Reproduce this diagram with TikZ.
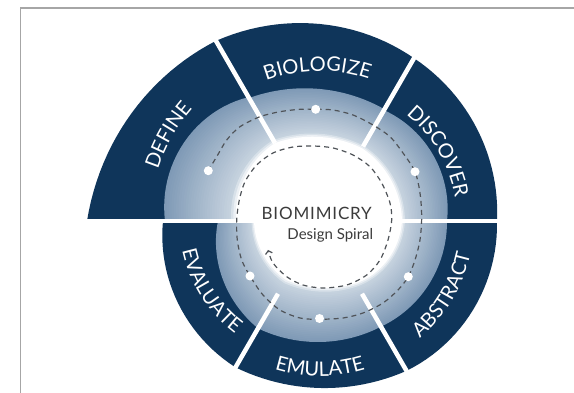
\documentclass[tikz,border=0pt]{standalone}
\usepackage{fontspec}
\setmainfont{Lato}
\newfontfamily\titlefont[LetterSpace=5]{Lato}
\usetikzlibrary{decorations.text,arrows.meta}

\definecolor{spiralnavy}{HTML}{0F355A}
\definecolor{ringblue}{HTML}{7F9AB6}
\definecolor{framegray}{HTML}{A6A6A6}
\definecolor{dashgray}{HTML}{4F5358}
\definecolor{titlegray}{HTML}{3B3B3B}

\newcommand\labelfont{\color{white}\fontsize{20}{24}\selectfont}
% from/to angle, outer radius (start/mid/end), inner edge of dark band, edge of white centre
\newcommand\seglist{-180/-120/157/164/169/102/113/124/66/66/68,
  -120/-60/169/167/173/124/121/122/68/67/72,
  -60/0/173/177/177/122/126/127/72/78/82,
  0/60/177/182/188/127/131/128/82/82/84,
  60/120/188/197/208/129/132/142/84/84/90,
  120/180/208/217/233/143/157/155/90/87/84}

\tikzset{
  ringlabel/.style={decorate, decoration={text along path, text align=center, text={|\labelfont|#1}}},
  sepline/.style={white, line width=4.5pt},
  stagedot/.style={circle, fill=white, inner sep=0pt, minimum size=9pt},
  titletext/.style={font=\titlefont\fontsize{17}{20}\selectfont, text=titlegray, inner sep=0pt},
}

\begin{document}
\begin{tikzpicture}[x=1pt, y=1pt, >={Straight Barb[length=3pt,width=7pt]},
  declare function={rsp(\z,\za,\zb,\ra,\rb,\rc)=\ra+(\rc-\ra)*(\z-\za)/(\zb-\za)+(\rb-(\ra+\rc)/2)*4*(\z-\za)/(\zb-\za)*(1-(\z-\za)/(\zb-\za));}]
\useasboundingbox (0,0) rectangle (574,393);
\draw[framegray, line width=1.3pt] (20.5,0) -- (20.5,385) -- (574,385);
\coordinate (C) at (320,172);

% dark outer band
\fill[spiralnavy] (C) \foreach \ta/\tb/\op/\om/\oe/\ip/\im/\ie/\wp/\wm/\we in \seglist {
  -- plot[domain=\ta:\tb, samples=25] ({320+rsp(\x,\ta,\tb,\op,\om,\oe)*cos(\x)}, {172+rsp(\x,\ta,\tb,\op,\om,\oe)*sin(\x)})} -- cycle;

% light ring, fading to the white centre
\foreach \k in {0,...,29} {
  \pgfmathsetmacro\st{\k/30}
  \pgfmathsetmacro\pc{\st<0.9 ? 100-55*\st/0.9 : 45*(1-\st)/0.1}
  \fill[ringblue!\pc!white] (C) \foreach \ta/\tb/\op/\om/\oe/\ip/\im/\ie/\wp/\wm/\we in \seglist {
    -- plot[domain=\ta:\tb, samples=25] ({320+((1-\st)*rsp(\x,\ta,\tb,\ip,\im,\ie)+\st*rsp(\x,\ta,\tb,\wp,\wm,\we))*cos(\x)},
      {172+((1-\st)*rsp(\x,\ta,\tb,\ip,\im,\ie)+\st*rsp(\x,\ta,\tb,\wp,\wm,\we))*sin(\x)})} -- cycle;
}
\fill[white] (C) \foreach \ta/\tb/\op/\om/\oe/\ip/\im/\ie/\wp/\wm/\we in \seglist {
  -- plot[domain=\ta:\tb, samples=25] ({320+rsp(\x,\ta,\tb,\wp,\wm,\we)*cos(\x)}, {172+rsp(\x,\ta,\tb,\wp,\wm,\we)*sin(\x)})} -- cycle;

% gaps between the stages
\foreach \ang/\ri/\ro in {120/90/212, 60/86/192, -60/84/176, -120/84/172}
  \draw[sepline] ([shift={(\ang:\ri)}]C) -- ([shift={(\ang:\ro)}]C);
\draw[sepline] (80,172) -- (506,172);

% dashed spiral
\draw[dashgray, line width=1.2pt, dash pattern=on 5pt off 4pt, ->] plot[smooth] coordinates {
  (208,222) (216.7,236.3) (226.7,253) (240,266.3) (260,276.3) (280,281.3) (300,283.7) (315.7,283.7)
  (333,283) (353,278) (373,268) (390,256.3) (403,240) (415,221.3)
  (420,200) (421.7,176.3) (420,153) (415,133) (408.3,116.3)
  (398,103) (383,90) (363,80) (343,75) (319.3,73.7)
  (300,75) (280,83) (263,98) (250,117)
  (241.7,133) (237.3,153) (236.7,173) (239.3,193) (245,211.3) (256.7,228) (273,240) (293,246) (313,247)
  (333,245) (353,238) (370,226.3) (381.7,210) (390,190) (391.7,173) (388,153) (380,133) (366.7,118)
  (346.7,108) (323,105) (303,108) (286.7,116.3) (273,130) (268,143)};

\node[stagedot] (dotdefine) at (208.3,222.3) {};
\node[stagedot] (dotbiologize) at (315.7,283.7) {};
\node[stagedot] (dotdiscover) at (415,221.3) {};
\node[stagedot] (dotabstract) at (408.3,116.3) {};
\node[stagedot] (dotemulate) at (319.5,74.5) {};
\node[stagedot] (dotevaluate) at (250,117) {};

% stage names
\path[ringlabel=DEFINE] ([shift={(180.5:170)}]C) arc[start angle=180.5, end angle=120.5, radius=170pt];
\path[ringlabel=BIOLOGIZE] ([shift={(131:150)}]C) arc[start angle=131, end angle=51, radius=150pt];
\path[ringlabel=DISCOVER] ([shift={(60.5:137)}]C) arc[start angle=60.5, end angle=0.5, radius=137pt];
\path[ringlabel=ABSTRACT] ([shift={(-61:154)}]C) arc[start angle=-61, end angle=-1, radius=154pt];
\path[ringlabel=EMULATE] ([shift={(-120:155)}]C) arc[start angle=-120, end angle=-60, radius=155pt];
\path[ringlabel=EVALUATE] ([shift={(-177.5:141)}]C) arc[start angle=-177.5, end angle=-117.5, radius=141pt];

\node[titletext, anchor=base] (title) at (316.7,173.7) {BIOMIMICRY};
\node[titletext, font=\fontsize{15}{18}\selectfont, anchor=base east] (subtitle) at (373.3,153) {Design Spiral};
\end{tikzpicture}
\end{document}
